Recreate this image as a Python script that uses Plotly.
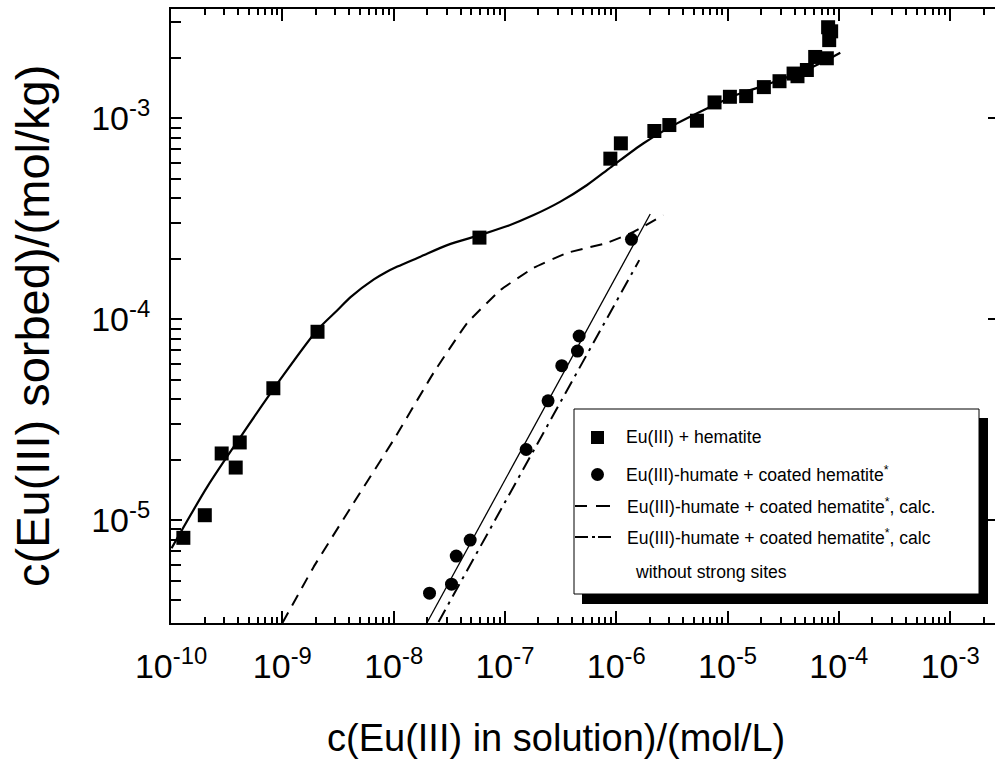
import plotly.graph_objects as go

# Eu(III) sorption on hematite: measured points
hem_x = [1.29e-10, 2.01e-10, 2.85e-10, 3.81e-10, 4.14e-10, 8.30e-10, 2.07e-9,
         5.9e-8, 8.85e-7, 1.10e-6, 2.20e-6, 3.0e-6, 5.31e-6, 7.64e-6, 1.05e-5,
         1.47e-5, 2.12e-5, 2.93e-5, 3.92e-5, 4.25e-5, 5.16e-5, 6.13e-5, 7.80e-5,
         8.01e-5, 8.53e-5, 8.19e-5]
hem_y = [8.18e-6, 1.06e-5, 2.15e-5, 1.83e-5, 2.44e-5, 4.54e-5, 8.67e-5,
         2.55e-4, 6.3e-4, 7.51e-4, 8.65e-4, 9.26e-4, 9.73e-4, 1.20e-3, 1.28e-3,
         1.29e-3, 1.43e-3, 1.53e-3, 1.67e-3, 1.62e-3, 1.74e-3, 2.02e-3, 1.99e-3,
         2.84e-3, 2.71e-3, 2.45e-3]

# Model curve for Eu(III) + hematite
fit_x = [1.01e-10, 2.12e-10, 4.23e-10, 9.66e-10, 2.06e-9, 3.12e-9, 4.10e-9, 6.64e-9,
         8.45e-9, 1.08e-8, 1.74e-8, 3.03e-8, 6.03e-8, 1.05e-7, 1.81e-7, 3.15e-7,
         5.47e-7, 9.04e-7, 1.76e-6, 3.52e-6, 6.53e-6, 1.21e-5, 2.10e-5, 3.18e-5,
         4.50e-5, 5.92e-5, 7.80e-5, 1.03e-4]
fit_y = [7.26e-6, 1.47e-5, 2.61e-5, 5.05e-5, 8.85e-5, 1.11e-4, 1.29e-4, 1.58e-4,
         1.71e-4, 1.83e-4, 2.05e-4, 2.34e-4, 2.63e-4, 2.91e-4, 3.30e-4, 3.85e-4,
         4.66e-4, 5.74e-4, 7.52e-4, 9.44e-4, 1.12e-3, 1.31e-3, 1.45e-3, 1.58e-3,
         1.69e-3, 1.81e-3, 1.95e-3, 2.12e-3]

# Eu(III)-humate on humic-coated hematite: measured points
hum_x = [2.10e-8, 3.31e-8, 3.65e-8, 4.87e-8, 1.55e-7, 2.44e-7, 3.24e-7, 4.48e-7,
         4.64e-7, 1.37e-6]
hum_y = [4.34e-6, 4.81e-6, 6.64e-6, 7.97e-6, 2.25e-5, 3.93e-5, 5.88e-5, 6.95e-5,
         8.26e-5, 2.50e-4]

# Straight line through the humate data
hum_line_x = [2.01e-8, 2.02e-6]
hum_line_y = [3.12e-6, 3.34e-4]

# Calculated, with strong sites
calc_x = [1.0e-9, 1.91e-9, 4.37e-9, 9.98e-9, 2.28e-8, 4.58e-8, 9.12e-8, 1.80e-7,
          3.62e-7, 8.26e-7, 1.43e-6, 2.65e-6]
calc_y = [3.08e-6, 5.86e-6, 1.22e-5, 2.51e-5, 5.41e-5, 9.59e-5, 1.40e-4, 1.80e-4,
          2.14e-4, 2.40e-4, 2.72e-4, 3.30e-4]

# Calculated, without strong sites
weak_x = [2.53e-8, 1.61e-6]
weak_y = [3.12e-6, 1.97e-4]

x_ticks = [1e-10, 1e-9, 1e-8, 1e-7, 1e-6, 1e-5, 1e-4, 1e-3]
x_labels = ["10<sup>-10</sup>", "10<sup>-9</sup>", "10<sup>-8</sup>", "10<sup>-7</sup>",
            "10<sup>-6</sup>", "10<sup>-5</sup>", "10<sup>-4</sup>", "10<sup>-3</sup>"]
y_ticks = [1e-5, 1e-4, 1e-3]
y_labels = ["10<sup>-5</sup>", "10<sup>-4</sup>", "10<sup>-3</sup>"]

legend_rows = [
    "Eu(III) + hematite",
    "Eu(III)-humate + coated hematite<sup>*</sup>",
    "Eu(III)-humate + coated hematite<sup>*</sup>, calc.",
    "Eu(III)-humate + coated hematite<sup>*</sup>, calc",
    "without strong sites",
]

FONT = "Liberation Sans, Arial, sans-serif"
W, H = 995, 762
PL, PR, PT, PB = 171, 995, 9, 623


def px(x):
    return (x - PL) / (PR - PL)


def py(y):
    return (PB - y) / (PB - PT)


minor_x = [m * 10.0 ** e for e in range(-11, -1) for m in range(2, 10)]
minor_y = [m * 10.0 ** e for e in range(-7, -1) for m in range(2, 10)]

fig = go.Figure()
fig.add_trace(go.Scatter(x=fit_x, y=fit_y, mode="lines",
                         line=dict(color="black", width=2.2, shape="spline", smoothing=0.8)))
fig.add_trace(go.Scatter(x=calc_x, y=calc_y, mode="lines",
                         line=dict(color="black", width=2, dash="12px,8px",
                                   shape="spline", smoothing=0.3)))
fig.add_trace(go.Scatter(x=hum_line_x, y=hum_line_y, mode="lines",
                         line=dict(color="black", width=1.3)))
fig.add_trace(go.Scatter(x=weak_x, y=weak_y, mode="lines",
                         line=dict(color="black", width=2, dash="14px,6px,3px,6px")))
fig.add_trace(go.Scatter(x=hem_x, y=hem_y, mode="markers",
                         marker=dict(symbol="square", size=14, color="black")))
fig.add_trace(go.Scatter(x=hum_x, y=hum_y, mode="markers",
                         marker=dict(symbol="circle", size=13, color="black")))
# right-hand axis with decade ticks only
fig.add_trace(go.Scatter(x=[1e-9], y=[1e-4], yaxis="y2", mode="markers",
                         marker=dict(opacity=0), hoverinfo="skip"))

fig.update_layout(
    width=W, height=H,
    margin=dict(l=PL, r=W - PR, t=PT, b=H - PB),
    paper_bgcolor="white", plot_bgcolor="white",
    showlegend=False,
    font=dict(family=FONT, color="black"),
    xaxis=dict(
        type="log", range=[-10.0005, -2.597],
        showline=True, linecolor="black", linewidth=2, mirror="ticks",
        showgrid=False, zeroline=False,
        ticks="inside", ticklen=12, tickwidth=2, tickcolor="black",
        tickmode="array", tickvals=x_ticks, ticktext=x_labels,
        tickfont=dict(size=34, family=FONT), ticklabelstandoff=12,
        minor=dict(tickmode="array", tickvals=minor_x, ticks="inside",
                   ticklen=6, tickwidth=2, tickcolor="black", showgrid=False),
    ),
    yaxis=dict(
        type="log", range=[-5.511, -2.456],
        showline=True, linecolor="black", linewidth=2, mirror=False,
        showgrid=False, zeroline=False,
        ticks="inside", ticklen=11, tickwidth=2, tickcolor="black",
        tickmode="array", tickvals=y_ticks, ticktext=y_labels,
        tickfont=dict(size=34, family=FONT), ticklabelstandoff=12,
        minor=dict(tickmode="array", tickvals=minor_y, ticks="inside",
                   ticklen=10, tickwidth=2, tickcolor="black", showgrid=False),
    ),
    yaxis2=dict(
        type="log", range=[-5.511, -2.456], overlaying="y", side="right", anchor="x",
        showline=False, showgrid=False, zeroline=False,
        ticks="inside", ticklen=7, tickwidth=2, tickcolor="black",
        tickmode="array", tickvals=y_ticks, showticklabels=False,
    ),
)

# axis titles
fig.add_annotation(text="c(Eu(III) in solution)/(mol/L)", xref="paper", yref="paper",
                   x=px(556), y=py(738), xanchor="center", yanchor="middle",
                   showarrow=False, font=dict(size=38, family=FONT))
fig.add_annotation(text="c(Eu(III) sorbed)/(mol/kg)", xref="paper", yref="paper",
                   x=px(32), y=py(326), xanchor="center", yanchor="middle", textangle=-90,
                   showarrow=False, font=dict(size=47, family=FONT))

# legend: shadow, box, symbols, labels
shapes = [
    dict(type="rect", xref="paper", yref="paper", x0=px(582), x1=px(988), y0=py(418), y1=py(604),
         fillcolor="black", line=dict(width=0)),
    dict(type="rect", xref="paper", yref="paper", x0=px(574), x1=px(979), y0=py(409), y1=py(594),
         fillcolor="white", line=dict(color="black", width=1)),
    dict(type="rect", xref="paper", yref="paper", x0=px(591), x1=px(604), y0=py(431), y1=py(444),
         fillcolor="black", line=dict(width=0)),
    dict(type="circle", xref="paper", yref="paper", x0=px(591), x1=px(604), y0=py(468), y1=py(481),
         fillcolor="black", line=dict(width=0)),
]
for a, b in [(575, 587), (596, 610)]:
    shapes.append(dict(type="line", xref="paper", yref="paper", x0=px(a), x1=px(b),
                       y0=py(506), y1=py(506), line=dict(color="black", width=2)))
for a, b in [(575, 588), (592, 595), (598, 611)]:
    shapes.append(dict(type="line", xref="paper", yref="paper", x0=px(a), x1=px(b),
                       y0=py(537), y1=py(537), line=dict(color="black", width=2)))
fig.update_layout(shapes=shapes)

for text, lx, ly in zip(legend_rows, [624, 624, 625, 625, 633], [437, 474, 506, 537, 572]):
    fig.add_annotation(text=text, xref="paper", yref="paper", x=px(lx), y=py(ly),
                       xanchor="left", yanchor="middle", showarrow=False,
                       font=dict(size=17.6, family=FONT))

fig.write_html("out.html")
